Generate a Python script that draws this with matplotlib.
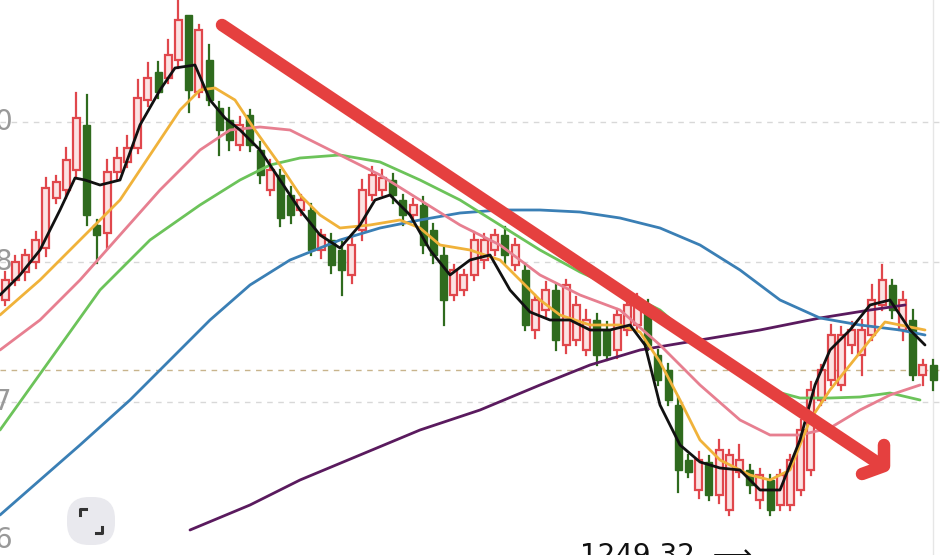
import numpy as np
import matplotlib.pyplot as plt
from matplotlib.patches import FancyBboxPatch

W, H = 945, 555

# candles: (body top, body bottom, wick top, wick bottom, rising) read in screen px
tops = [280, 262, 255, 240, 188, 182, 160, 118, 125, 225, 172, 158, 148, 98, 78, 72, 55, 20, 15, 30,
        60, 108, 120, 125, 115, 150, 170, 175, 195, 200, 210, 235, 240, 250, 245, 190, 175, 178, 180, 200,
        205, 205, 230, 255, 270, 275, 240, 240, 235, 235, 245, 270, 300, 290, 290, 285, 305, 320, 320, 330,
        315, 305, 300, 305, 355, 370, 405, 460, 460, 462, 450, 455, 460, 470, 475, 480, 475, 460, 430, 390,
        370, 335, 335, 330, 330, 300, 280, 285, 300, 320, 365, 365]
bots = [300, 280, 272, 262, 248, 198, 190, 170, 215, 235, 233, 172, 162, 148, 100, 92, 78, 60, 90, 92,
        100, 130, 140, 145, 145, 175, 190, 218, 215, 210, 250, 250, 265, 270, 275, 230, 195, 190, 195, 215,
        215, 245, 255, 300, 295, 290, 275, 260, 250, 255, 265, 325, 330, 310, 340, 345, 340, 350, 355, 355,
        350, 330, 325, 345, 380, 400, 470, 472, 490, 495, 495, 510, 472, 485, 500, 510, 505, 505, 490, 470,
        400, 380, 385, 345, 355, 335, 305, 310, 330, 375, 375, 380]
rising = [1, 1, 1, 1, 1, 1, 1, 1, 0, 0, 1, 1, 1, 1, 1, 0, 1, 1, 0, 1,
          0, 0, 0, 1, 0, 0, 1, 0, 0, 1, 0, 1, 0, 0, 1, 1, 1, 1, 0, 0,
          1, 0, 0, 0, 1, 1, 1, 1, 1, 0, 1, 0, 1, 1, 0, 1, 1, 1, 0, 0,
          1, 1, 1, 0, 0, 0, 0, 0, 1, 0, 1, 1, 1, 0, 1, 0, 1, 1, 1, 1,
          1, 1, 1, 1, 1, 1, 1, 0, 1, 0, 1, 0]
wick_up = [8, 6, 5, 8, 10, 6, 12, 25, 30, 5, 12, 10, 12, 18, 15, 10, 15, 20, 0, 5,
           15, 6, 12, 8, 5, 8, 10, 5, 8, 5, 6, 5, 6, 8, 10, 10, 8, 8, 6, 5,
           6, 8, 6, 8, 5, 5, 8, 6, 5, 8, 6, 6, 5, 8, 6, 5, 8, 10, 6, 8,
           6, 5, 6, 5, 5, 6, 8, 5, 8, 6, 10, 5, 15, 5, 6, 5, 5, 5, 10, 8,
           5, 10, 8, 8, 10, 15, 15, 5, 8, 10, 5, 5]
wick_dn = [5, 5, 8, 6, 8, 5, 8, 6, 10, 28, 15, 8, 5, 5, 6, 6, 5, 8, 22, 5,
           5, 25, 10, 5, 6, 8, 5, 8, 8, 5, 5, 8, 8, 25, 8, 10, 5, 5, 8, 10,
           5, 8, 8, 25, 5, 5, 5, 8, 5, 8, 5, 5, 8, 6, 10, 8, 5, 5, 10, 5,
           8, 5, 5, 5, 5, 5, 22, 5, 8, 5, 8, 5, 5, 8, 8, 5, 5, 5, 5, 5,
           5, 5, 5, 8, 20, 5, 5, 8, 10, 5, 10, 10]

# moving averages sampled (screen px x, screen px y)
ma_black = [(0, 295), (20, 275), (40, 250), (60, 210), (75, 178), (85, 180), (100, 185), (120, 180), (140, 125),
            (160, 90), (175, 68), (195, 65), (210, 100), (225, 118), (240, 130), (260, 150), (280, 180), (300, 210),
            (320, 235), (340, 248), (360, 225), (375, 200), (390, 195), (410, 215), (430, 250), (450, 275), (470, 260),
            (490, 255), (510, 290), (530, 312), (550, 320), (570, 320), (590, 330), (610, 330), (630, 325), (645, 345),
            (660, 405), (680, 445), (700, 462), (720, 468), (740, 470), (760, 490), (780, 490), (800, 440), (815, 385),
            (830, 350), (850, 330), (870, 305), (890, 300), (910, 330), (925, 345)]
ma_yellow = [(0, 315), (40, 280), (80, 240), (120, 200), (150, 155), (180, 110), (200, 90), (215, 88), (235, 100),
             (255, 130), (280, 165), (300, 195), (320, 215), (340, 228), (370, 225), (400, 220), (420, 228), (440, 245),
             (470, 250), (500, 260), (520, 280), (540, 300), (560, 315), (590, 325), (620, 325), (640, 332), (660, 362),
             (680, 400), (700, 440), (720, 460), (750, 475), (770, 480), (790, 470), (810, 420), (830, 390), (850, 365),
             (870, 340), (885, 322), (900, 325), (925, 330)]
ma_pink = [(0, 350), (40, 320), (80, 280), (120, 235), (160, 190), (200, 150), (230, 130), (260, 127), (290, 130),
           (320, 145), (350, 160), (380, 175), (420, 200), (460, 225), (500, 245), (540, 275), (580, 295), (620, 310),
           (660, 345), (700, 385), (740, 420), (770, 435), (800, 435), (830, 428), (860, 410), (890, 395), (920, 385)]
ma_green = [(0, 430), (50, 360), (100, 290), (150, 240), (200, 205), (240, 180), (270, 165), (300, 158), (340, 155),
            (380, 162), (420, 180), (460, 200), (500, 225), (540, 250), (580, 272), (620, 290), (660, 310), (700, 345),
            (740, 372), (770, 390), (800, 398), (830, 398), (860, 397), (890, 393), (920, 400)]
ma_blue = [(0, 515), (40, 480), (80, 445), (130, 400), (170, 360), (210, 320), (250, 285), (290, 260), (340, 240),
           (380, 228), (420, 220), (460, 213), (500, 210), (540, 210), (580, 212), (620, 218), (660, 228), (700, 245),
           (740, 270), (780, 300), (820, 318), (860, 325), (900, 330), (925, 335)]
ma_purple = [(190, 530), (250, 505), (300, 480), (360, 455), (420, 430), (480, 410), (540, 385), (590, 365),
             (640, 350), (700, 340), (760, 330), (820, 318), (870, 310), (905, 305)]

y_labels = ["0", "8", "7", "6"]
y_label_pos = [122, 262, 402, 540]

red = "#e0474c"
green = "#2f6b1e"

fig = plt.figure(figsize=(W / 100, H / 100), dpi=100)
ax = fig.add_axes([0, 0, 1, 1])
ax.set_xlim(0, W)
ax.set_ylim(H, 0)
ax.axis("off")

for y in y_label_pos[:3]:
    ax.axhline(y, color="#d8d8d8", lw=1, ls=(0, (4, 4)), zorder=0)
ax.axhline(370, color="#c8b48c", lw=1, ls=(0, (4, 4)), zorder=0)
ax.axvline(933, color="#e6e6e6", lw=1, zorder=0)
for lab, y in zip(y_labels, y_label_pos):
    ax.text(-6, y, lab, fontsize=20, color="#999999", va="center", ha="left")

step = 10.2
for i in range(len(tops)):
    x = 5 + step * i
    t, b = tops[i], bots[i]
    col = red if rising[i] else green
    ax.plot([x, x], [t - wick_up[i], t], color=col, lw=1.6, zorder=3)
    ax.plot([x, x], [b, b + wick_dn[i]], color=col, lw=1.6, zorder=3)
    if rising[i]:
        ax.add_patch(plt.Rectangle((x - 3.5, t), 7, max(b - t, 2), facecolor="#fbe3e3",
                                   edgecolor=red, lw=1.6, zorder=3))
    else:
        ax.add_patch(plt.Rectangle((x - 3.5, t), 7, max(b - t, 2), facecolor=green,
                                   edgecolor=green, lw=1, zorder=3))

for pts, col, lw in [(ma_purple, "#5a1a5e", 2), (ma_blue, "#3a7fb5", 2), (ma_green, "#6cc35a", 2),
                     (ma_pink, "#e77f90", 2), (ma_yellow, "#f0b23a", 2), (ma_black, "#111111", 2)]:
    p = np.array(pts, dtype=float)
    ax.plot(p[:, 0], p[:, 1], color=col, lw=lw, zorder=4, solid_capstyle="round")

# trend arrow
ax.plot([222, 878], [25, 463], color="#e5403f", lw=9, solid_capstyle="round", zorder=5)
ax.plot([862, 884, 884], [474, 466, 445], color="#e5403f", lw=9, solid_capstyle="round",
        solid_joinstyle="round", zorder=5)

ax.add_patch(FancyBboxPatch((67, 497), 48, 48, boxstyle="round,pad=0,rounding_size=22",
                            facecolor="#e9e9ee", edgecolor="none", zorder=6))
ax.plot([80, 80, 86], [515, 509, 509], color="#333333", lw=2.2, zorder=7)
ax.plot([102, 102, 96], [527, 533, 533], color="#333333", lw=2.2, zorder=7)

ax.text(580, 556, "1249.32  \u27f6", fontsize=20, color="#111111", va="center", ha="left")

fig.savefig("out.png", dpi=100)
